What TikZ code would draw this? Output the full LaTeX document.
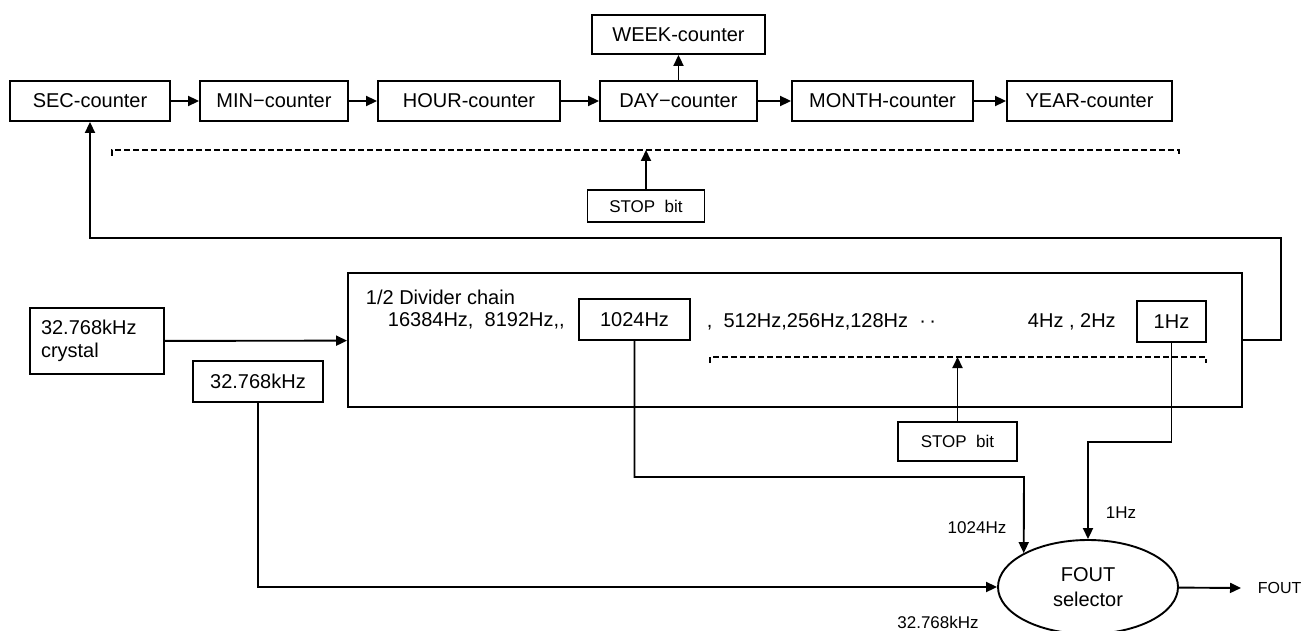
\documentclass[tikz,border=0pt]{standalone}
\usepackage{fontspec}
\setmainfont{Liberation Sans}
\usetikzlibrary{arrows.meta,shapes.geometric}

\begin{document}
\begin{tikzpicture}[x=1pt, y=-1pt, line width=1.9pt,
    box/.style={draw, rectangle, minimum height=40pt, inner sep=0pt, font=\fontsize{20}{23}\selectfont},
    lbl/.style={inner sep=0pt, font=\fontsize{17}{20}\selectfont},
    txt/.style={inner sep=0pt, anchor=west, font=\fontsize{20}{23}\selectfont},
    dsh/.style={dash pattern=on 6pt off 3pt, line width=1.5pt},
    arr/.style={-{Triangle[length=11pt,width=10pt]}}]
    \useasboundingbox (0, 0) rectangle (1303, 631);
    \node [box, minimum width=160pt] (sec) at (90, 101) {SEC-counter};
    \node [box, minimum width=148pt] (min) at (274, 101) {MIN\textminus counter};
    \node [box, minimum width=182pt] (hour) at (469, 101) {HOUR-counter};
    \node [box, minimum width=157pt] (day) at (678.5, 101) {DAY\textminus counter};
    \node [box, minimum width=173pt, minimum height=39pt] (week) at (678.5, 34.5) {WEEK-counter};
    \node [box, minimum width=181pt] (month) at (882.5, 101) {MONTH-counter};
    \node [box, minimum width=165pt] (year) at (1089.5, 101) {YEAR-counter};
    \node [box, lbl, minimum width=117pt, minimum height=32pt] (stopa) at (646, 206) {STOP\ \ bit};
    \draw [arr] (sec) -- (min);
    \draw [arr] (min) -- (hour);
    \draw [arr] (hour) -- (day);
    \draw [arr] (day) -- (month);
    \draw [arr] (month) -- (year);
    \draw [arr] (day) -- (week);
    \coordinate (dl) at (112, 150);
    \coordinate (dr) at (1179, 150);
    \draw [dsh] ([yshift=-6]dl) -- (dl) -- (dr) -- ([yshift=-6]dr);
    \draw [arr] (stopa) -- (stopa |- dl);
    \node [box, minimum width=894pt, minimum height=134pt] (div) at (795, 340) {};
    \node [txt] (t1) at (365, 297) {1/2 Divider chain};
    \node [txt] (t2) at (387, 321) {16384Hz,\ \ 8192Hz,{},};
    \node [box, minimum width=111pt, minimum height=41pt] (f1024) at (634.5, 319.5) {1024Hz};
    \node [txt] (t3) at (706, 322) {,\ \ 512Hz,256Hz,128Hz\ \ \textperiodcentered\,\textperiodcentered};
    \node [txt] (t4) at (1027, 322) {4Hz , 2Hz};
    \node [box, minimum width=69pt, minimum height=41pt] (f1) at (1171.5, 321.5) {1Hz};
    \coordinate (el) at (710, 357);
    \coordinate (er) at (1206, 357);
    \draw [dsh] ([yshift=-6]el) -- (el) -- (er) -- ([yshift=-6]er);
    \node [box, lbl, minimum width=119pt, minimum height=39pt] (stopb) at (957.5, 441.5) {STOP\ \ bit};
    \draw [arr] (stopb) -- (stopb |- el);
    \node [box, minimum width=134pt, minimum height=66pt, align=left, text width=112pt] (xtal) at (97, 341) {32.768kHz\\crystal};
    \node [box, minimum width=130pt, minimum height=41pt] (f32) at (258, 381.5) {32.768kHz};
    \draw [arr] (xtal) -- (div);
    \node [draw, ellipse, minimum width=180pt, minimum height=94pt, inner sep=0pt, align=center, font=\fontsize{20}{25}\selectfont] (sel) at (1088, 587) {FOUT\\selector};
    \node [lbl, anchor=west, font=\fontsize{16}{19}\selectfont] (fout) at (1257, 588) {FOUT};
    \draw [arr] (sel) -- ([xshift=-16]fout.west);
    \coordinate (fb) at (1281, 238);
    \draw [arr] (div.east) -| (fb) -| (sec.south);
    \coordinate (k1024) at (1024, 477);
    \draw [arr] (f1024) |- (k1024) -- (sel.north west);
    \coordinate (k1) at (1088, 442);
    \draw [arr] (f1) |- (k1) -- (sel.north);
    \draw [arr] (f32) |- (sel.west);
    \node [lbl] (l1024) at (977, 528) {1024Hz};
    \node [lbl] (l1) at (1121, 513) {1Hz};
    \node [lbl] (l32) at (938, 622) {32.768kHz};
\end{tikzpicture}
\end{document}
